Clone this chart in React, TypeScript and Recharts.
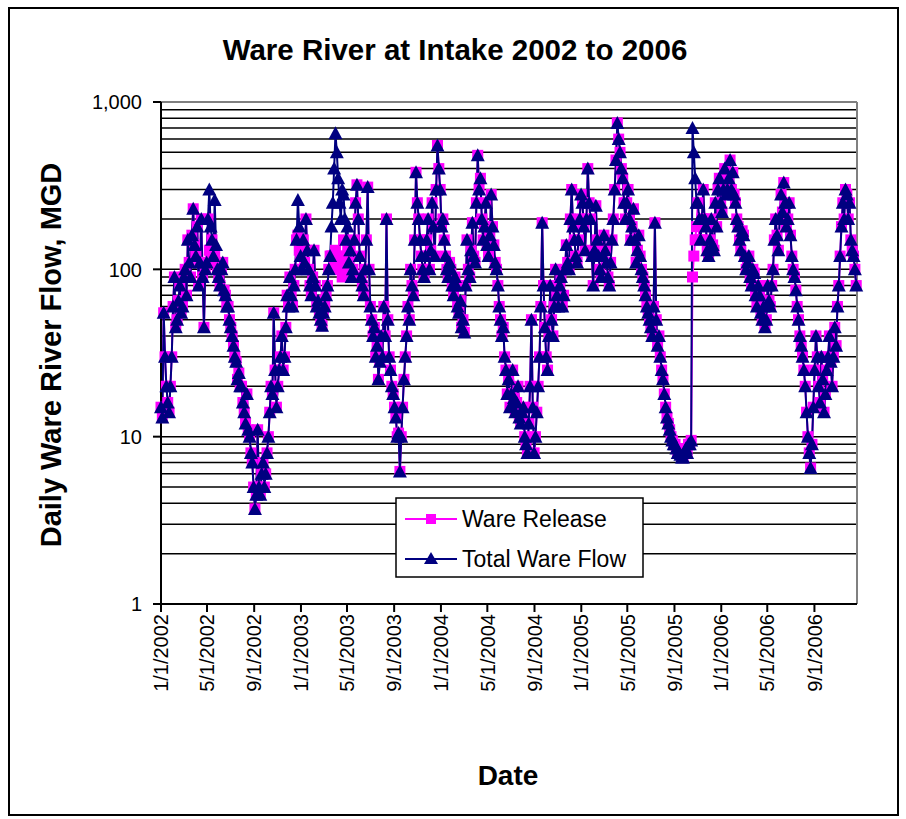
import React from "react";
import { LineChart, Line, XAxis, YAxis, CartesianGrid, ReferenceLine } from "recharts";

const FONT = '"Liberation Sans", Arial, Helvetica, sans-serif';
const MAGENTA = "#FF00FF";
const NAVY = "#000080";

// readings (MGD) every 3.5 days, first value is 1/1/2002
const flow2002 = [
    15, 13, 55, 30, 20, 16, 14, 20, 30, 60, 90, 45, 50, 65, 80, 55, 60, 90, 100, 70,
    150, 110, 90, 160, 230, 140, 120, 180, 80, 110, 200, 90, 45, 100, 110, 200, 300, 180, 150, 120,
    260, 140, 100, 90, 80, 100, 110, 75, 70, 60, 60, 50, 45, 40, 35, 30, 28, 22, 24, 20,
    20, 16, 14, 12, 18, 11, 10, 8, 7, 5, 3.7, 4.5, 11, 5, 4.5, 6, 7, 5, 6, 8,
    10, 14, 20, 18, 55, 25, 15, 20, 25, 30, 40, 25, 30, 45, 70, 60, 90, 70, 60, 80,
    100, 150, 260, 180,
];
const flow2003 = [
    120, 100, 150, 110, 200, 130, 100, 80, 70, 90, 130, 80, 60, 65, 55, 50, 46, 55, 60, 70,
    80, 100, 120, 180, 250, 400, 650, 500, 350, 250, 200, 300, 280, 200, 150, 180, 110, 130, 90, 100,
    150, 250, 320, 200, 120, 90, 80, 70, 100, 150, 310, 100, 60, 50, 40, 45, 30, 35, 22, 28,
    40, 30, 60, 40, 200, 50, 30, 25, 20, 18, 15, 13, 10, 10.5, 6.2, 10, 15, 22, 30, 40,
    60, 50, 100, 80, 70, 150, 380, 250, 200, 150, 120, 100, 90, 120, 150, 200, 100, 130, 250, 180,
    120, 300, 550, 400,
];
const flow2004 = [
    300, 180, 200, 150, 120, 100, 90, 110, 100, 80, 70, 90, 80, 60, 55, 65, 45, 50, 42, 80,
    150, 100, 90, 130, 190, 120, 110, 250, 480, 300, 350, 200, 150, 180, 250, 140, 120, 160, 280, 180,
    140, 110, 100, 80, 60, 50, 40, 45, 30, 25, 18, 22, 15, 18, 25, 17, 14, 16, 20, 13,
    12, 14, 15, 10, 9, 8, 12, 20, 50, 15, 8, 10, 14, 20, 30, 60, 190, 80, 45, 30,
    25, 40, 80, 50, 40, 60, 100, 70, 60, 80, 90, 60, 70, 100, 140, 110, 100, 200, 300, 180,
    150, 120, 110, 150,
];
const flow2005 = [
    200, 280, 250, 180, 130, 200, 400, 250, 200, 120, 80, 130, 240, 150, 120, 100, 90, 120, 160, 130,
    110, 90, 80, 110, 150, 200, 300, 450, 750, 600, 500, 400, 350, 250, 200, 250, 300, 200, 150, 180,
    230, 150, 110, 130, 160, 120, 100, 90, 80, 70, 60, 55, 50, 45, 40, 60, 190, 50, 35, 40,
    30, 25, 22, 18, 15, 13, 12, 11, 10, 9.5, 9, 9, 8.5, 8, 8, 7.8, 7.5, 7.5, 8, 8.5,
    8, 9, 9, 9.5, 700, 500, 350, 250, 250, 200, 150, 200, 300, 200, 180, 130, 120, 150, 200, 140,
    130, 250, 180, 300,
];
const flow2006 = [
    350, 250, 220, 300, 400, 280, 300, 350, 450, 300, 380, 280, 250, 200, 180, 150, 130, 170, 160, 120,
    100, 110, 120, 90, 80, 100, 95, 70, 60, 80, 70, 55, 50, 60, 45, 50, 80, 65, 60, 80,
    100, 150, 200, 160, 130, 200, 280, 220, 330, 250, 180, 200, 250, 160, 120, 100, 90, 75, 60, 50,
    40, 35, 30, 25, 20, 14, 10, 8, 6.5, 9, 15, 25, 40, 30, 20, 16, 30, 22, 14, 18,
    25, 30, 40, 28, 20, 30, 45, 35, 60, 80, 120, 180, 250, 200, 300, 280, 200, 250, 150, 130,
    120, 100, 80,
];

const release2002 = [
    15, 13, 55, 30, 20, 16, 14, 20, 30, 60, 90, 45, 50, 65, 80, 55, 60, 90, 100, 70,
    150, 110, 90, 160, 230, 140, 120, 180, 80, 110, 200, 90, 45, 100, 110, 200, 130, 120, 150, 120,
    120, 110, 100, 90, 80, 100, 110, 75, 70, 60, 60, 50, 45, 40, 35, 30, 28, 22, 24, 20,
    20, 16, 14, 12, 18, 11, 10, 8, 7, 5, 3.7, 4.5, 11, 5, 4.5, 6, 7, 5, 6, 8,
    10, 14, 20, 18, 55, 25, 15, 20, 25, 30, 40, 25, 30, 45, 70, 60, 90, 70, 60, 80,
    100, 150, 160, 130,
];
const release2003 = [
    120, 100, 150, 110, 200, 130, 100, 80, 70, 90, 130, 80, 60, 65, 55, 50, 46, 55, 60, 70,
    80, 100, 120, 120, 120, 110, 130, 120, 110, 100, 100, 90, 150, 120, 100, 110, 110, 130, 90, 100,
    150, 250, 320, 200, 120, 90, 80, 70, 100, 150, 310, 100, 60, 50, 40, 45, 30, 35, 22, 28,
    40, 30, 60, 40, 200, 50, 30, 25, 20, 18, 15, 13, 10, 10.5, 6.2, 10, 15, 22, 30, 40,
    60, 50, 100, 80, 70, 150, 380, 250, 200, 150, 120, 100, 90, 120, 150, 200, 100, 130, 250, 180,
    120, 300, 550, 400,
];
const release2004 = [
    300, 180, 200, 150, 120, 100, 90, 110, 100, 80, 70, 90, 80, 60, 55, 65, 45, 50, 42, 80,
    150, 100, 90, 130, 190, 120, 110, 250, 480, 300, 350, 200, 150, 180, 250, 140, 120, 160, 280, 180,
    140, 110, 100, 80, 60, 50, 40, 45, 30, 25, 18, 22, 15, 18, 25, 17, 14, 16, 20, 13,
    12, 14, 15, 10, 9, 8, 12, 20, 50, 15, 8, 10, 14, 20, 30, 60, 190, 80, 45, 30,
    25, 40, 80, 50, 40, 60, 100, 70, 60, 80, 90, 60, 70, 100, 140, 110, 100, 200, 300, 180,
    150, 120, 110, 150,
];
const release2005 = [
    200, 280, 250, 180, 130, 200, 400, 250, 200, 120, 80, 130, 240, 150, 120, 100, 90, 120, 160, 130,
    110, 90, 80, 110, 150, 200, 300, 450, 750, 600, 500, 400, 350, 250, 200, 250, 300, 200, 150, 180,
    230, 150, 110, 130, 160, 120, 100, 90, 80, 70, 60, 55, 50, 45, 40, 60, 190, 50, 35, 40,
    30, 25, 22, 18, 15, 13, 12, 11, 10, 9.5, 9, 9, 8.5, 8, 8, 7.8, 7.5, 7.5, 8, 8.5,
    8, 9, 9, 9.5, 90, 120, 150, 180, 250, 150, 150, 200, 300, 200, 180, 130, 120, 150, 200, 140,
    130, 250, 180, 300,
];
const release2006 = [
    350, 250, 220, 300, 400, 280, 300, 350, 450, 300, 380, 280, 250, 200, 180, 150, 130, 170, 160, 120,
    100, 110, 120, 90, 80, 100, 95, 70, 60, 80, 70, 55, 50, 60, 45, 50, 80, 65, 60, 80,
    100, 150, 200, 160, 130, 200, 280, 220, 330, 250, 180, 200, 250, 160, 120, 100, 90, 75, 60, 50,
    40, 35, 30, 25, 20, 14, 10, 8, 6.5, 9, 15, 25, 40, 30, 20, 16, 30, 22, 14, 18,
    25, 30, 40, 28, 20, 30, 45, 35, 60, 80, 120, 180, 250, 200, 300, 280, 200, 250, 150, 130,
    120, 100, 80,
];

// x ticks: days since 1/1/2002
const dateTicks = [0, 120, 243, 365, 485, 608, 730, 851, 974, 1096, 1216, 1339, 1461, 1581, 1704];
const dateLabels = ["1/1/2002", "5/1/2002", "9/1/2002", "1/1/2003", "5/1/2003", "9/1/2003", "1/1/2004", "5/1/2004", "9/1/2004", "1/1/2005", "5/1/2005", "9/1/2005", "1/1/2006", "5/1/2006", "9/1/2006"];

const flowTicks = [1, 2, 3, 4, 5, 6, 7, 8, 9, 10, 20, 30, 40, 50, 60, 70, 80, 90, 100, 200, 300, 400, 500, 600, 700, 800, 900, 1000];
const flowLabels: Record<number, string> = { 1: "1", 10: "10", 100: "100", 1000: "1,000" };

const totalFlow = [...flow2002, ...flow2003, ...flow2004, ...flow2005, ...flow2006];
const wareRelease = [...release2002, ...release2003, ...release2004, ...release2005, ...release2006];
const data = totalFlow.map((v, i) => ({ day: i * 3.5, release: wareRelease[i], total: v }));

function FlowTick(props: any) {
    const { y, payload } = props;
    const label = flowLabels[payload.value];
    if (!label) return <g />;
    return (
        <g>
            <line x1={153} x2={161} y1={y} y2={y} stroke="#000" strokeWidth={2} />
            <text x={142} y={y} dy="0.36em" textAnchor="end" fontSize={20} fontFamily={FONT} fill="#000">
                {label}
            </text>
        </g>
    );
}

function DateTick(props: any) {
    const { x, payload } = props;
    const i = dateTicks.indexOf(payload.value);
    return (
        <g>
            <line x1={x} x2={x} y1={604} y2={612} stroke="#000" strokeWidth={2} />
            <text
                transform={`translate(${x},${614}) rotate(-90)`}
                dy="0.36em"
                textAnchor="end"
                fontSize={20}
                fontFamily={FONT}
                fill="#000"
            >
                {dateLabels[i]}
            </text>
        </g>
    );
}

const squareDot = (p: any) => {
    if (p.cx == null || p.cy == null) return <g key={`sq-${p.index}`} />;
    return <rect key={`sq-${p.index}`} x={p.cx - 5.5} y={p.cy - 5.5} width={11} height={11} fill={MAGENTA} />;
};

const triangleDot = (p: any) => {
    if (p.cx == null || p.cy == null) return <g key={`tr-${p.index}`} />;
    const { cx, cy } = p;
    return (
        <polygon
            key={`tr-${p.index}`}
            points={`${cx},${cy - 7} ${cx + 7},${cy + 6} ${cx - 7},${cy + 6}`}
            fill={NAVY}
        />
    );
};

export default function App() {
    return (
        <div style={{ position: "absolute", left: 0, top: 0, width: 906, height: 819, background: "#fff" }}>
            <LineChart
                width={906}
                height={819}
                data={data}
                margin={{ top: 102, right: 49, bottom: 0, left: 0 }}
            >
                <CartesianGrid vertical={false} stroke="#000" strokeWidth={1.5} />
                <XAxis
                    dataKey="day"
                    type="number"
                    domain={[0, 1815]}
                    ticks={dateTicks}
                    interval={0}
                    height={215}
                    tickLine={false}
                    axisLine={{ stroke: "#000", strokeWidth: 2 }}
                    tick={DateTick}
                />
                <YAxis
                    type="number"
                    scale="log"
                    domain={[1, 1000]}
                    ticks={flowTicks}
                    interval={0}
                    allowDataOverflow
                    width={161}
                    tickLine={false}
                    axisLine={{ stroke: "#000", strokeWidth: 2 }}
                    tick={FlowTick}
                />
                <ReferenceLine y={1000} stroke="#808080" strokeWidth={2} />
                <ReferenceLine x={1815} stroke="#808080" strokeWidth={2} />
                <Line
                    dataKey="release"
                    name="Ware Release"
                    type="linear"
                    stroke={MAGENTA}
                    strokeWidth={2}
                    dot={squareDot}
                    activeDot={false}
                    isAnimationActive={false}
                />
                <Line
                    dataKey="total"
                    name="Total Ware Flow"
                    type="linear"
                    stroke={NAVY}
                    strokeWidth={2}
                    dot={triangleDot}
                    activeDot={false}
                    isAnimationActive={false}
                />
            </LineChart>
            <svg
                width={906}
                height={819}
                style={{ position: "absolute", left: 0, top: 0, pointerEvents: "none" }}
                fontFamily={FONT}
            >
                <rect x={9} y={8} width={889} height={807} fill="none" stroke="#000" strokeWidth={2} />
                <text x={455} y={60} textAnchor="middle" fontSize={29.5} fontWeight="bold" fill="#000">
                    Ware River at Intake 2002 to 2006
                </text>
                <text
                    transform="translate(61,355) rotate(-90)"
                    textAnchor="middle"
                    fontSize={29}
                    fontWeight="bold"
                    fill="#000"
                >
                    Daily Ware River Flow, MGD
                </text>
                <text x={508} y={785} textAnchor="middle" fontSize={28} fontWeight="bold" fill="#000">
                    Date
                </text>
                <g>
                    <rect x={396} y={498} width={247} height={79} fill="#fff" stroke="#000" strokeWidth={1.5} />
                    <line x1={405} x2={457} y1={519} y2={519} stroke={MAGENTA} strokeWidth={2} />
                    <rect x={426} y={514} width={10} height={10} fill={MAGENTA} />
                    <text x={462} y={527} fontSize={23} fill="#000">Ware Release</text>
                    <line x1={405} x2={457} y1={559} y2={559} stroke={NAVY} strokeWidth={2} />
                    <polygon points="431,552 438,564 424,564" fill={NAVY} />
                    <text x={462} y={567} fontSize={23} fill="#000">Total Ware Flow</text>
                </g>
            </svg>
        </div>
    );
}
